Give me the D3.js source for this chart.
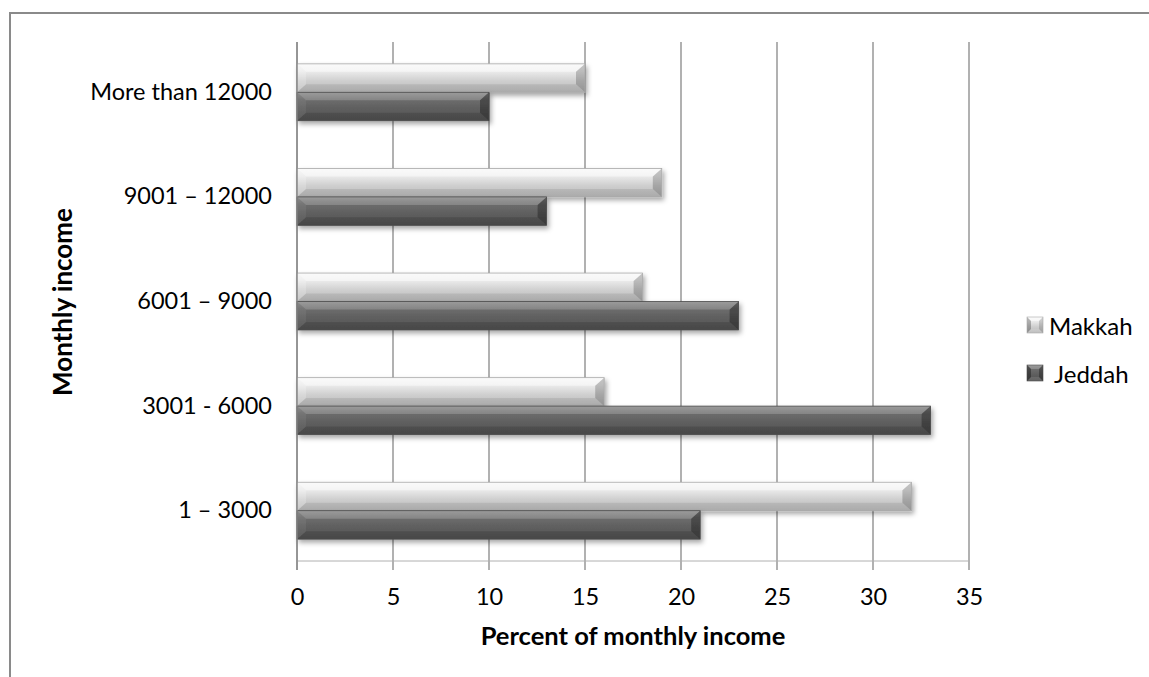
<!DOCTYPE html>
<html>
<head>
<meta charset="utf-8">
<script src="https://cdn.jsdelivr.net/npm/d3@7"></script>
<style>
  html, body { margin: 0; padding: 0; background: #fff; }
  svg { display: block; font-family: Lato, "Open Sans", sans-serif; }
</style>
</head>
<body>
<svg id="chart" width="1149" height="677"></svg>
<script>
// Income brackets, listed from the bottom of the chart to the top
const categories = ["1 – 3000", "3001 - 6000", "6001 – 9000", "9001 – 12000", "More than 12000"];
const seriesNames = ["Makkah", "Jeddah"];
const makkah = [32, 16, 18, 19, 15];
const jeddah = [21, 33, 23, 13, 10];
const xTicks = [0, 5, 10, 15, 20, 25, 30, 35];

const svg = d3.select("#chart");
const W = 1149, H = 677;
const plot = { left: 297, right: 969, top: 40, bottom: 563, floorDepth: 7 };

// outer chart frame
svg.append("rect")
  .attr("x", 10).attr("y", 13)
  .attr("width", W + 20).attr("height", H + 20)
  .attr("fill", "none").attr("stroke", "#8a8a8a").attr("stroke-width", 2);

const x = d3.scaleLinear().domain([0, 35]).range([plot.left, plot.right]);
const y = d3.scaleBand()
  .domain(categories.slice().reverse())
  .range([plot.top, plot.bottom])
  .paddingInner(0.456).paddingOuter(0.228);
const ySub = d3.scaleBand().domain(seriesNames).range([0, y.bandwidth()]);

const defs = svg.append("defs");

// vertical shading for the two bar styles
function grad(id, stops) {
  const g = defs.append("linearGradient").attr("id", id)
    .attr("x1", 0).attr("y1", 0).attr("x2", 0).attr("y2", 1);
  stops.forEach(([o, c]) => g.append("stop").attr("offset", o).attr("stop-color", c));
}
grad("gMakkah", [[0, "#f6f6f6"], [0.25, "#ececec"], [0.6, "#cfcfcf"], [1, "#b9b9b9"]]);
grad("gJeddah", [[0, "#858585"], [0.25, "#6d6d6d"], [0.6, "#5e5e5e"], [1, "#525252"]]);

const shadow = defs.append("filter").attr("id", "barShadow")
  .attr("x", "-5%").attr("y", "-30%").attr("width", "115%").attr("height", "180%");
shadow.append("feDropShadow")
  .attr("dx", 2).attr("dy", 3).attr("stdDeviation", 2.5)
  .attr("flood-color", "#000").attr("flood-opacity", 0.35);

const fills = { Makkah: "url(#gMakkah)", Jeddah: "url(#gJeddah)" };
const edge = { Makkah: "#a9a9a9", Jeddah: "#4a4a4a" };

// gridlines and floor
const grid = svg.append("g");
grid.selectAll("line.v").data(xTicks).join("line")
  .attr("class", "v")
  .attr("x1", d => x(d)).attr("x2", d => x(d))
  .attr("y1", plot.top + 2).attr("y2", plot.bottom + plot.floorDepth)
  .attr("stroke", "#878787").attr("stroke-width", 1.3);
grid.append("line")
  .attr("x1", plot.left).attr("x2", plot.right)
  .attr("y1", plot.bottom - 2).attr("y2", plot.bottom - 2)
  .attr("stroke", "#b0b0b0").attr("stroke-width", 1);

// bevelled bar: body plus four shaded edge facets
function bevelBar(g, x0, y0, w, h, name) {
  const b = Math.min(9, w / 2), bv = Math.min(8, h / 2);
  const bar = g.append("g").attr("filter", "url(#barShadow)");
  bar.append("rect").attr("x", x0).attr("y", y0).attr("width", w).attr("height", h)
    .attr("fill", fills[name]);
  const facets = [
    { pts: [[x0, y0], [x0 + w, y0], [x0 + w - b, y0 + bv], [x0 + b, y0 + bv]], c: "#fff", o: name === "Makkah" ? 0.45 : 0.18 },
    { pts: [[x0, y0 + h], [x0 + w, y0 + h], [x0 + w - b, y0 + h - bv], [x0 + b, y0 + h - bv]], c: "#000", o: name === "Makkah" ? 0.08 : 0.12 },
    { pts: [[x0, y0], [x0 + b, y0 + bv], [x0 + b, y0 + h - bv], [x0, y0 + h]], c: "#fff", o: name === "Makkah" ? 0.2 : 0.06 },
    { pts: [[x0 + w, y0], [x0 + w - b, y0 + bv], [x0 + w - b, y0 + h - bv], [x0 + w, y0 + h]], c: "#000", o: name === "Makkah" ? 0.2 : 0.3 }
  ];
  facets.forEach(f => bar.append("polygon")
    .attr("points", f.pts.map(p => p.join(",")).join(" "))
    .attr("fill", f.c).attr("fill-opacity", f.o));
  bar.append("rect").attr("x", x0).attr("y", y0).attr("width", w).attr("height", h)
    .attr("fill", "none").attr("stroke", edge[name]).attr("stroke-width", 0.8);
}

const rows = categories.map((c, i) => ({ cat: c, Makkah: makkah[i], Jeddah: jeddah[i] }));
const barsG = svg.append("g");
rows.forEach(r => {
  seriesNames.forEach(s => {
    bevelBar(barsG, x(0), y(r.cat) + ySub(s), x(r[s]) - x(0), ySub.bandwidth(), s);
  });
});

// left axis line
svg.append("line")
  .attr("x1", plot.left).attr("x2", plot.left)
  .attr("y1", plot.top + 2).attr("y2", plot.bottom + plot.floorDepth)
  .attr("stroke", "#878787").attr("stroke-width", 1.3);

// x axis tick labels
const xAxis = d3.axisBottom(x).tickValues(xTicks).tickSize(0).tickPadding(0);
const xg = svg.append("g").attr("transform", `translate(0,${plot.bottom + 26})`).call(xAxis);
xg.select(".domain").remove();
xg.selectAll("text").attr("font-size", 23.5).attr("fill", "#000")
  .attr("font-family", "Lato, sans-serif").attr("dy", "0.7em");

// y axis category labels
const yAxis = d3.axisLeft(y).tickSize(0).tickPadding(0);
const yg = svg.append("g").attr("transform", `translate(272,0)`).call(yAxis);
yg.select(".domain").remove();
yg.selectAll("text").attr("font-size", 23.5).attr("fill", "#000")
  .attr("font-family", "Lato, sans-serif");

// axis titles
svg.append("text")
  .attr("x", (plot.left + plot.right) / 2).attr("y", 635)
  .attr("text-anchor", "middle").attr("dominant-baseline", "central")
  .attr("font-size", 25.5).attr("font-weight", "bold").text("Percent of monthly income");
svg.append("text")
  .attr("transform", "translate(62,302) rotate(-90)")
  .attr("text-anchor", "middle").attr("dominant-baseline", "central")
  .attr("font-size", 26).attr("font-weight", "bold").text("Monthly income");

// legend
const legend = svg.append("g");
const legendItems = [
  { name: "Makkah", y: 325, tx: 1049 },
  { name: "Jeddah", y: 373, tx: 1054 }
];
legendItems.forEach(it => {
  const s = 16, x0 = 1027, y0 = it.y - s / 2;
  const g = legend.append("g");
  g.append("rect").attr("x", x0).attr("y", y0).attr("width", s).attr("height", s)
    .attr("fill", fills[it.name]);
  const k = 4;
  const inner = [[x0 + k, y0 + k], [x0 + s - k, y0 + k], [x0 + s - k, y0 + s - k], [x0 + k, y0 + s - k]];
  const outer = [[x0, y0], [x0 + s, y0], [x0 + s, y0 + s], [x0, y0 + s]];
  const shades = it.name === "Makkah" ? [0.5, 0.15, 0.1, 0.25] : [0.2, 0.3, 0.1, 0.35];
  const cols = ["#fff", "#000", "#fff", "#000"];
  for (let i = 0; i < 4; i++) {
    const j = (i + 1) % 4;
    g.append("polygon")
      .attr("points", [outer[i], outer[j], inner[j], inner[i]].map(p => p.join(",")).join(" "))
      .attr("fill", cols[i]).attr("fill-opacity", shades[i]);
  }
  g.append("rect").attr("x", x0).attr("y", y0).attr("width", s).attr("height", s)
    .attr("fill", "none").attr("stroke", edge[it.name]).attr("stroke-width", 0.6);
  legend.append("text").attr("x", it.tx).attr("y", it.y)
    .attr("dominant-baseline", "central").attr("font-size", 24).text(it.name);
});
</script>
</body>
</html>
